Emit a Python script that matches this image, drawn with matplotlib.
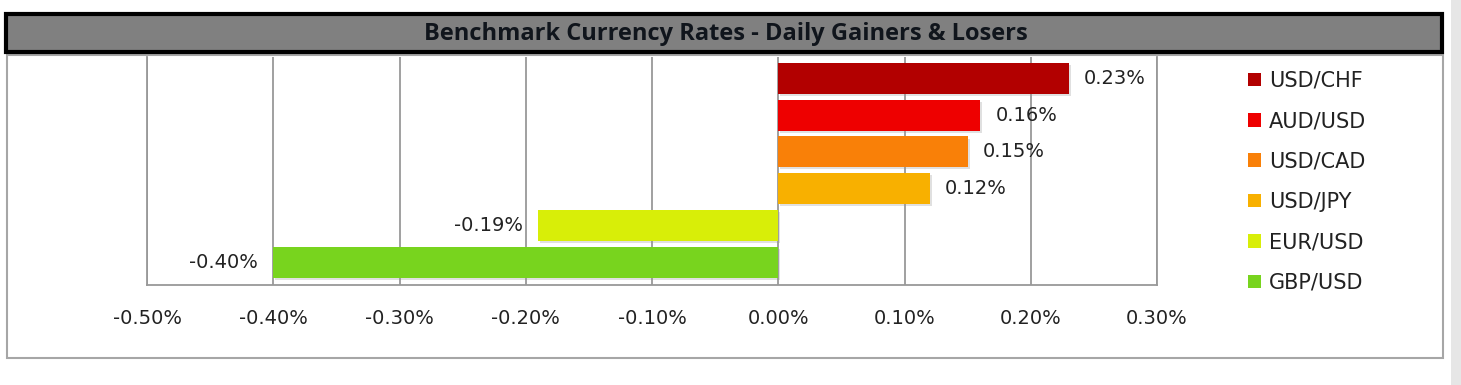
import matplotlib.pyplot as plt
import matplotlib.patches as mpatches
import matplotlib.patheffects as pe
from matplotlib.ticker import FuncFormatter, MultipleLocator

# data
pairs = ['USD/CHF', 'AUD/USD', 'USD/CAD', 'USD/JPY', 'EUR/USD', 'GBP/USD']
changes = [0.23, 0.16, 0.15, 0.12, -0.19, -0.40]
colors = ['#B20000', '#EE0000', '#F98008', '#F8B000', '#D8EE08', '#78D41E']
title = 'Benchmark Currency Rates - Daily Gainers & Losers'

W, H = 1461, 385
fig = plt.figure(figsize=(W / 100, H / 100), dpi=100)
fig.patch.set_facecolor('white')

def fx(px):
    return px / W

def fy(py):
    return 1 - py / H

# outer chart frame
fig.patches.append(mpatches.Rectangle((fx(7), fy(358)), fx(1443) - fx(7), fy(55) - fy(358),
                                      transform=fig.transFigure, facecolor='none',
                                      edgecolor='#a6a6a6', linewidth=1.5, zorder=-1))
# scrollbar strip on right
fig.patches.append(mpatches.Rectangle((fx(1451), 0), fx(W) - fx(1451), 1,
                                      transform=fig.transFigure, facecolor='#e6e6e6',
                                      edgecolor='none', zorder=-1))
# title bar
fig.patches.append(mpatches.Rectangle((fx(6), fy(52)), fx(1442) - fx(6), fy(14) - fy(52),
                                      transform=fig.transFigure, facecolor='#808080',
                                      edgecolor='black', linewidth=3, zorder=5))
fig.text(fx(726), fy(33.5), title, ha='center', va='center', fontsize=17,
         fontweight='bold', family='Open Sans', color='#10151c', zorder=6)

ax = fig.add_axes([fx(147), fy(285), fx(1157) - fx(147), fy(57) - fy(285)])
ax.set_facecolor('white')

ypos = list(range(len(pairs)))
bars = ax.barh(ypos, changes, height=0.84, color=colors, zorder=3)
for b in bars:
    b.set_path_effects([pe.SimplePatchShadow(offset=(1.5, -1.5), shadow_rgbFace='#999999', alpha=0.3),
                        pe.Normal()])

for y, v in zip(ypos, changes):
    if v >= 0:
        ax.annotate(f'{v:.2f}%', (v, y), xytext=(11, 0), textcoords='offset points',
                    ha='left', va='center', fontsize=14, color='#222222')
    else:
        ax.annotate(f'{v:.2f}%', (v, y), xytext=(-11, 0), textcoords='offset points',
                    ha='right', va='center', fontsize=14, color='#222222')

ax.set_xlim(-0.5, 0.3)
ax.set_ylim(5.62, -0.58)
ax.xaxis.set_major_locator(MultipleLocator(0.1))
ax.xaxis.set_major_formatter(FuncFormatter(lambda x, p: f'{x:.2f}%'))
ax.grid(axis='x', color='#999999', linewidth=1.3, zorder=1)
ax.set_axisbelow(True)
ax.set_yticks([])
ax.tick_params(axis='x', length=0, pad=17, labelsize=14, labelcolor='#222222')
ax.spines['top'].set_visible(False)
for s in ['left', 'bottom', 'right']:
    ax.spines[s].set_color('#999999')
    ax.spines[s].set_linewidth(1.3)

handles = [mpatches.Patch(facecolor=c, edgecolor='none') for c in colors]
fig.legend(handles, pairs, loc='upper left', bbox_to_anchor=(fx(1229), fy(52)),
           frameon=False, fontsize=15, handlelength=0.62, handleheight=0.62,
           handletextpad=0.4, labelspacing=0.98, labelcolor='#222222')

fig.savefig('out.png', dpi=100)
